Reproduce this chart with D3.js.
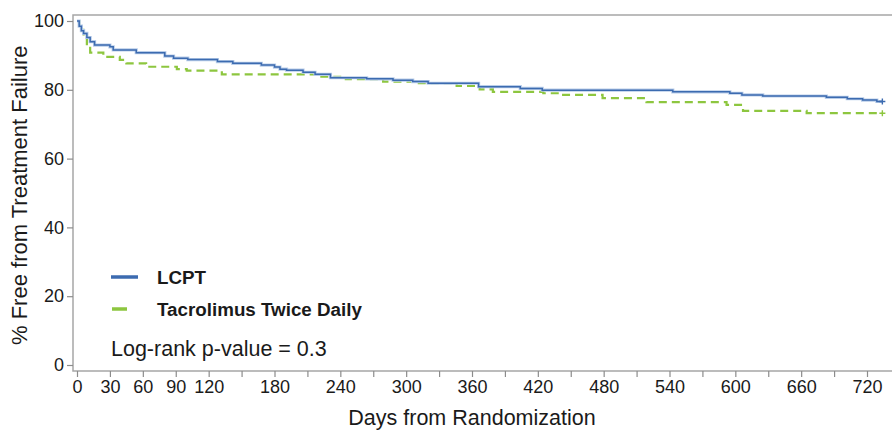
<!DOCTYPE html>
<html>
<head>
<meta charset="utf-8">
<script src="https://cdn.jsdelivr.net/npm/d3@7"></script>
<style>
  body { margin: 0; background: #fff; }
  svg text { font-family: "Liberation Sans", Arial, sans-serif; fill: #1a1a1a; }
</style>
</head>
<body>
<div id="chart"></div>
<script>
// step curves: day, % free from treatment failure
var lcptDays = [0, 2, 4, 6, 9, 12, 16, 30, 33, 54, 80, 88, 101, 128, 142, 168, 180, 185, 191, 206, 217, 231, 264, 288, 306, 320, 366, 404, 424, 543, 595, 606, 625, 683, 702, 716, 729, 734];
var lcptVals = [100, 98.5, 97.2, 96.4, 95.2, 94.0, 93.0, 92.5, 91.6, 90.8, 89.8, 89.2, 88.8, 88.2, 87.7, 87.2, 86.6, 86.0, 85.7, 85.1, 84.5, 83.5, 83.2, 82.8, 82.4, 81.9, 80.9, 80.4, 79.9, 79.4, 79.0, 78.5, 78.2, 77.8, 77.4, 77.0, 76.6, 76.6];

var tacDays = [0, 2, 4, 6, 9, 12, 24, 39, 45, 63, 91, 100, 132, 221, 245, 279, 310, 346, 367, 379, 425, 440, 479, 519, 592, 607, 665, 734];
var tacVals = [100, 98.8, 97.4, 95.5, 92.5, 90.8, 89.6, 88.7, 87.7, 86.7, 86.0, 85.6, 84.5, 83.8, 83.1, 82.4, 81.9, 81.1, 80.1, 79.4, 79.0, 78.5, 77.6, 76.4, 75.6, 73.9, 73.2, 73.2];

var xTicks = d3.range(0, 721, 30);
var xLabelled = [0, 30, 60, 90, 120, 180, 240, 300, 360, 420, 480, 540, 600, 660, 720];
var yTicks = [0, 20, 40, 60, 80, 100];

var seriesNames = ['LCPT', 'Tacrolimus Twice Daily'];

var width = 892, height = 431;
var svg = d3.select('#chart').append('svg')
  .attr('width', width)
  .attr('height', height);

var box = { left: 73, top: 15, bottom: 371, right: 892 };

var xScale = d3.scaleLinear().domain([0, 720]).range([77, 867]);
var yScale = d3.scaleLinear().domain([0, 100]).range([365, 21]);

// frame
svg.append('path')
  .attr('d', 'M' + box.right + ',' + box.top + 'H' + box.left + 'V' + box.bottom + 'H' + box.right)
  .attr('fill', 'none')
  .attr('stroke', '#a6a6a6')
  .attr('stroke-width', 1.5);

// x axis
var xAxis = d3.axisBottom(xScale)
  .tickValues(xTicks)
  .tickSize(6)
  .tickPadding(3)
  .tickFormat(function (d) { return xLabelled.indexOf(d) >= 0 ? d : ''; });
var gx = svg.append('g')
  .attr('transform', 'translate(0,' + box.bottom + ')')
  .call(xAxis);
gx.select('.domain').remove();
gx.selectAll('line').attr('stroke', '#8c8c8c').attr('stroke-width', 1.2);
gx.selectAll('text').style('font-size', '18px').attr('fill', '#1a1a1a');

// y axis
var yAxis = d3.axisLeft(yScale)
  .tickValues(yTicks)
  .tickSize(6)
  .tickPadding(3);
var gy = svg.append('g')
  .attr('transform', 'translate(' + box.left + ',0)')
  .call(yAxis);
gy.select('.domain').remove();
gy.selectAll('line').attr('stroke', '#8c8c8c').attr('stroke-width', 1.2);
gy.selectAll('text').style('font-size', '18px').attr('fill', '#1a1a1a');

// axis titles
svg.append('text')
  .attr('x', 472)
  .attr('y', 425)
  .attr('text-anchor', 'middle')
  .style('font-size', '21.5px')
  .text('Days from Randomization');

svg.append('text')
  .attr('transform', 'translate(27,345) rotate(-90)')
  .style('font-size', '22px')
  .text('% Free from Treatment Failure');

// curves
var line = d3.line()
  .x(function (d) { return xScale(d[0]); })
  .y(function (d) { return yScale(d[1]); })
  .curve(d3.curveStepAfter);

var lcpt = d3.zip(lcptDays, lcptVals);
var tac = d3.zip(tacDays, tacVals);

svg.append('path')
  .attr('d', line(tac))
  .attr('fill', 'none')
  .attr('stroke', '#8dc63f')
  .attr('stroke-width', 2.2)
  .attr('stroke-dasharray', '8,5');

svg.append('path')
  .attr('d', line(lcpt))
  .attr('fill', 'none')
  .attr('stroke', '#b9cde9')
  .attr('stroke-width', 3.2);
svg.append('path')
  .attr('d', line(lcpt))
  .attr('fill', 'none')
  .attr('stroke', '#3c6bb0')
  .attr('stroke-width', 1.5);

// censor marks at curve ends
function plus(pt, color) {
  var cx = xScale(pt[0]), cy = yScale(pt[1]);
  svg.append('path')
    .attr('d', 'M' + (cx - 3) + ',' + cy + 'h6M' + cx + ',' + (cy - 3) + 'v6')
    .attr('stroke', color)
    .attr('stroke-width', 1.4);
}
plus(lcpt[lcpt.length - 1], '#3c6bb0');
plus(tac[tac.length - 1], '#8dc63f');

// legend
var legend = svg.append('g');
legend.append('line')
  .attr('x1', 111).attr('x2', 138).attr('y1', 277).attr('y2', 277)
  .attr('stroke', '#3c6bb0').attr('stroke-width', 3.5);
legend.append('line')
  .attr('x1', 112).attr('x2', 127).attr('y1', 309).attr('y2', 309)
  .attr('stroke', '#8dc63f').attr('stroke-width', 3.5);
legend.selectAll('text.series')
  .data(seriesNames)
  .enter().append('text')
  .attr('class', 'series')
  .attr('x', 157)
  .attr('y', function (d, i) { return 284 + i * 32; })
  .style('font-size', '18.8px')
  .style('font-weight', 'bold')
  .attr('fill', '#111')
  .text(function (d) { return d; });

svg.append('text')
  .attr('x', 111)
  .attr('y', 356)
  .style('font-size', '21.5px')
  .text('Log-rank p-value = 0.3');
</script>
</body>
</html>
